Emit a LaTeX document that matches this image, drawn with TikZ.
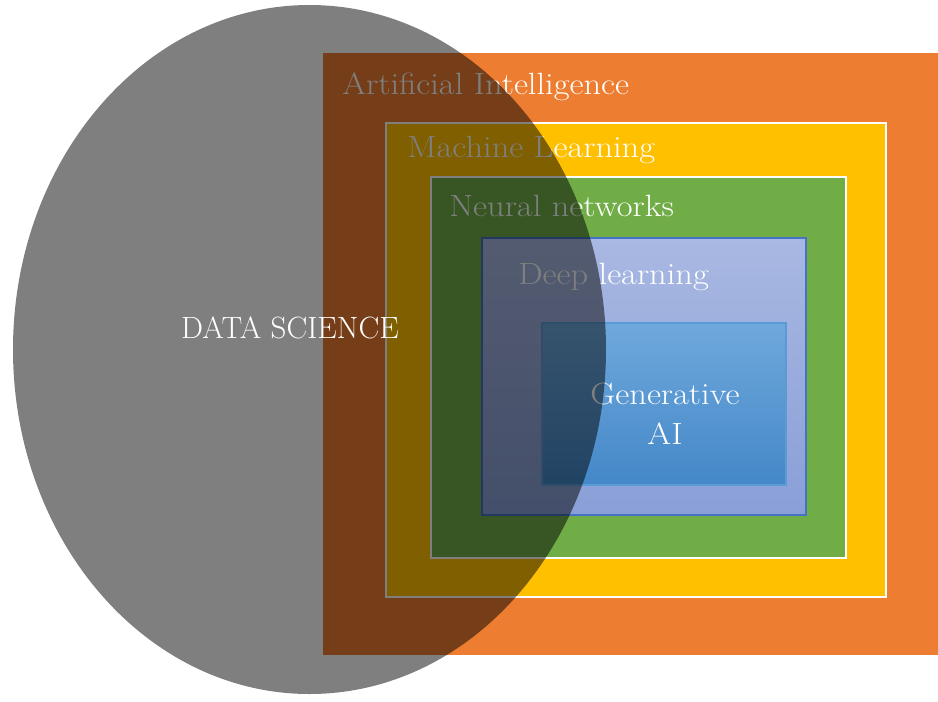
\documentclass[tikz,border=0pt]{standalone}
\definecolor{aiorange}{HTML}{ED7D31}
\definecolor{mlyellow}{HTML}{FFC000}
\definecolor{nngreen}{HTML}{70AD47}
\definecolor{dlblue}{HTML}{4472C4}
\definecolor{dltop}{HTML}{A9B8E2}
\definecolor{dlbottom}{HTML}{899FD7}
\definecolor{gentop}{HTML}{6FA8DC}
\definecolor{genbottom}{HTML}{4488C8}
\definecolor{genline}{HTML}{5B9BD5}
\newcommand{\wide}[1]{\scalebox{1.12}[1]{#1}}
\tikzset{
  lbl/.style={white,font=\fontsize{17.5}{21}\selectfont,inner sep=0pt},
  box/.style={draw=white,line width=1pt}
}
\begin{document}
\begin{tikzpicture}[x=0.02cm,y=-0.02cm]
\useasboundingbox (0,0) rectangle (938,701);
\fill[aiorange] (323,53) rectangle (938,655);
\fill[mlyellow,box] (386,123) rectangle (886,597);
\fill[nngreen,box] (431,177) rectangle (846,558);
\shade[top color=dltop,bottom color=dlbottom,draw=dlblue,line width=0.6pt] (482,238) rectangle (806,515);
\shade[top color=gentop,bottom color=genbottom,draw=genline,line width=0.6pt] (542,323) rectangle (786,485);
\node[lbl,anchor=west] (ai) at (342,87) {\wide{Artificial Intelligence}};
\node[lbl,anchor=west] (ml) at (407,150) {\wide{Machine Learning}};
\node[lbl,anchor=west] (nn) at (449,206) {\wide{Neural networks}};
\node[lbl,anchor=west] (dl) at (518,277) {\wide{Deep learning}};
\node[lbl,align=center] (gen) at (665,414) {\wide{Generative}\\[2pt]\wide{AI}};
% data science on top
\fill[black,opacity=0.5] (309.5,349.5) ellipse [x radius=296.5,y radius=344.5];
\node[lbl] (ds) at (290,328) {\scalebox{1.01}[1]{DATA SCIENCE}};
\end{tikzpicture}
\end{document}
